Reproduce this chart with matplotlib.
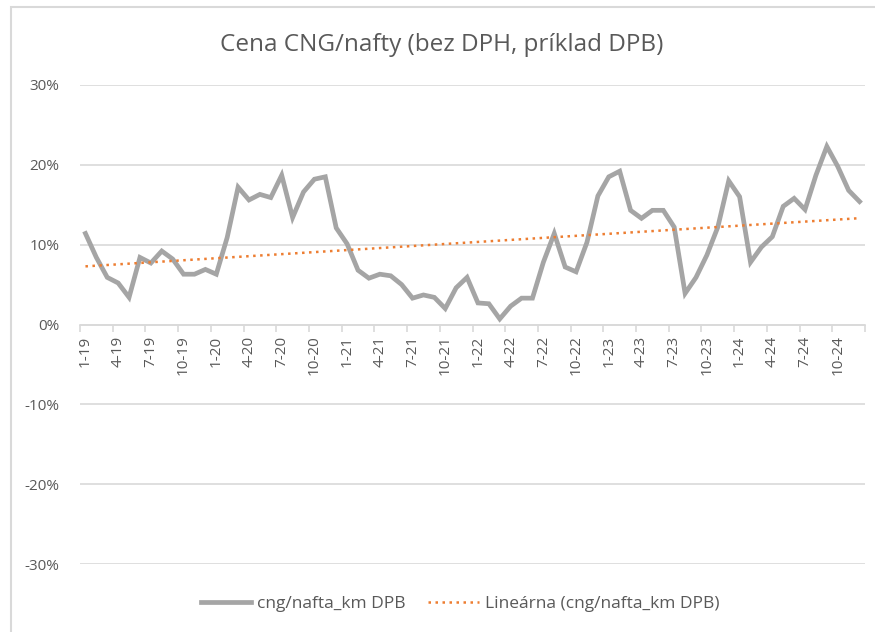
import numpy as np
import matplotlib.pyplot as plt
from matplotlib.patches import Rectangle
from matplotlib.ticker import FixedLocator, PercentFormatter

# Monthly ratio CNG/diesel (in %), Jan 2019 .. Dec 2024
years = [19, 20, 21, 22, 23, 24]
months = [f"{m}-{y}" for y in years for m in range(1, 13)]
cng_nafta = [
    11.4, 8.4, 5.9, 5.2, 3.4, 8.4, 7.7, 9.2, 8.2, 6.3, 6.3, 6.9,
    6.3, 10.9, 17.2, 15.6, 16.3, 15.9, 18.7, 13.4, 16.6, 18.2, 18.5, 12.1,
    10.1, 6.8, 5.8, 6.3, 6.1, 5.0, 3.3, 3.7, 3.4, 2.0, 4.6, 5.9,
    2.7, 2.6, 0.7, 2.3, 3.3, 3.3, 7.8, 11.4, 7.2, 6.6, 10.3, 16.1,
    18.5, 19.2, 14.3, 13.3, 14.3, 14.3, 12.2, 3.9, 5.9, 8.7, 12.2, 18.0,
    16.0, 7.8, 9.7, 11.0, 14.8, 15.8, 14.4, 18.7, 22.3, 19.8, 16.8, 15.4,
]
y_ticks = [-30, -20, -10, 0, 10, 20, 30]

GREY = '#A5A5A5'
ORANGE = '#ED7D31'
TEXT = '#595959'
GRID = '#D9D9D9'

plt.rcParams['font.family'] = ['Open Sans', 'DejaVu Sans']
plt.rcParams['axes.unicode_minus'] = False

x = np.arange(len(cng_nafta))
vals = np.array(cng_nafta)
# Excel-style linear trendline
slope, icpt = np.polyfit(x, vals, 1)
trend = slope * x + icpt

W, H = 875, 632
fig = plt.figure(figsize=(W / 100, H / 100), dpi=100)
ax = fig.add_axes([80 / W, 1 - 564 / H, (865 - 80) / W, (564 - 85) / H])

# chart border (cut off at right/bottom in the original)
fig.patches.append(Rectangle((11 / W, -0.1), 1.2, 1 - 7 / H + 0.1, transform=fig.transFigure,
                             fill=False, edgecolor=GRID, lw=1.5))

line, = ax.plot(x, vals, color=GREY, lw=3.4, solid_joinstyle='miter', zorder=3,
                label='cng/nafta_km DPB')
tr, = ax.plot(x, trend, color=ORANGE, lw=1.8, ls=(0, (1, 1.8)), zorder=4,
              label='Lineárna (cng/nafta_km DPB)')

ax.set_xlim(-0.5, len(x) - 0.5)
ax.set_ylim(-30, 30)
ax.set_yticks(y_ticks)
ax.yaxis.set_major_formatter(PercentFormatter(decimals=0))
ax.grid(axis='y', color=GRID, lw=1.2, zorder=0)
ax.tick_params(axis='y', length=0, pad=15, labelsize=11, labelcolor=TEXT)

for s in ['left', 'right', 'top']:
    ax.spines[s].set_visible(False)
ax.spines['bottom'].set_position(('data', 0))
ax.spines['bottom'].set_color(GRID)
ax.spines['bottom'].set_linewidth(1.2)

ax.set_xticks(x[::3])
ax.set_xticklabels(months[::3], rotation=90)
ax.xaxis.set_minor_locator(FixedLocator(np.arange(-0.5, len(x), 3)))
ax.tick_params(axis='x', which='major', length=0, pad=8, labelsize=11, labelcolor=TEXT)
ax.tick_params(axis='x', which='minor', length=5, width=1.2, color=GRID)

fig.text(442 / W, 1 - 45 / H, 'Cena CNG/nafty (bez DPH, príklad DPB)', ha='center', va='center',
         fontsize=17.5, color=TEXT)

fig.legend(handles=[line, tr], loc='center', bbox_to_anchor=(460 / W, 1 - 604 / H), ncol=2,
           frameon=False, fontsize=12.5, labelcolor=TEXT, handlelength=2.9, columnspacing=1.3,
           handletextpad=0.35)

fig.savefig('out.png', dpi=100)
